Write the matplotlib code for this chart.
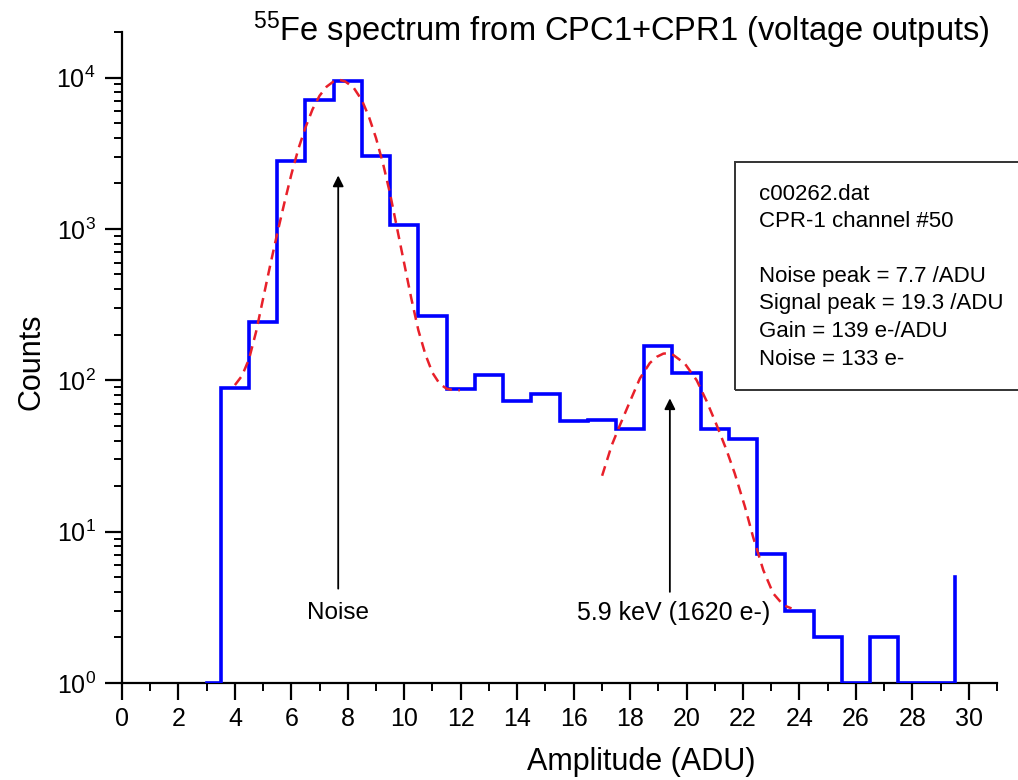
import matplotlib
matplotlib.use("Agg")
import matplotlib.pyplot as plt
from matplotlib.ticker import MultipleLocator, LogLocator, NullFormatter
from matplotlib.patches import Rectangle

plt.rcParams['font.family'] = ['Liberation Sans', 'DejaVu Sans']
plt.rcParams['mathtext.fontset'] = 'custom'
plt.rcParams['mathtext.rm'] = 'Liberation Sans'
plt.rcParams['mathtext.it'] = 'Liberation Sans:italic'
plt.rcParams['mathtext.bf'] = 'Liberation Sans:bold'

# ---- histogram data (bin left edges, counts) ----
bin_left = [3.0, 3.5, 4.5, 5.5, 6.5, 7.5, 8.5, 9.5, 10.5, 11.5, 12.5, 13.5, 14.5,
            15.5, 16.5, 17.5, 18.5, 19.5, 20.5, 21.5, 22.5, 23.5, 24.5, 25.5,
            26.5, 27.5, 28.5]
counts = [1, 89, 243, 2800, 7100, 9500, 3050, 1060, 266, 87, 108, 73, 81,
          54, 55, 48, 168, 112, 48, 41, 7.1, 3, 2, 1, 2, 1, 1]
last_edge = 29.5
spike_count = 5

# ---- fitted curves ----
noise_fit_x = [4.0, 4.25, 4.5, 4.75, 5.0, 5.25, 5.5, 5.75, 6.0, 6.25, 6.5, 6.75,
               7.0, 7.25, 7.5, 7.7, 7.9, 8.2, 8.5, 8.75, 9.0, 9.25, 9.5, 9.75,
               10.0, 10.25, 10.5, 10.75, 11.0, 11.25, 11.5, 11.75, 11.97]
noise_fit_y = [93, 107, 138, 209, 347, 575, 933, 1479, 2291, 3388, 4677, 6166,
               7586, 8710, 9441, 9661, 9441, 8610, 7079, 5495, 3981, 2692, 1698,
               1000, 589, 347, 214, 148, 112, 95, 88, 86, 86]

signal_fit_x = [17.01, 17.35, 17.64, 17.99, 18.35, 18.7, 18.95, 19.18, 19.35,
                19.53, 19.94, 20.36, 20.71, 21.07, 21.42, 21.71, 22.07, 22.36,
                22.72, 23.07, 23.43, 23.72]
signal_fit_y = [23.4, 37.2, 50.5, 72, 103, 130, 143, 150, 151, 147, 129, 100,
                73, 50.5, 34.5, 24.2, 14.6, 9.2, 5.57, 3.91, 3.27, 3.11]

title_text = r"$^{55}$Fe spectrum from CPC1+CPR1 (voltage outputs)"
box_lines = ["c00262.dat", "CPR-1 channel #50", "",
             "Noise peak = 7.7 /ADU", "Signal peak = 19.3 /ADU",
             "Gain = 139 e-/ADU", "Noise = 133 e-"]
noise_label = "Noise"
signal_label = "5.9 keV (1620 e-)"
noise_arrow = (7.66, 2255, 4.2)
signal_arrow = (19.41, 76, 4.0)

W, H = 1018, 780
fig = plt.figure(figsize=(W / 100, H / 100), dpi=100)
ax = fig.add_axes([122 / W, 1 - 683 / H, (997 - 122) / W, (683 - 32) / H])

# histogram as steps
xs = list(bin_left) + [last_edge]
ys = list(counts) + [spike_count]
ax.plot(xs, ys, drawstyle='steps-post', color='#0000ff', lw=2.6,
        solid_joinstyle='miter', zorder=3)

# fits
for fx, fy in [(noise_fit_x, noise_fit_y), (signal_fit_x, signal_fit_y)]:
    ax.plot(fx, fy, color='#e8202a', lw=1.8, ls=(0, (4, 2.6)), zorder=4)

# arrows
for (x, ytip, ybase) in [noise_arrow, signal_arrow]:
    ax.annotate('', xy=(x, ytip), xytext=(x, ybase),
                arrowprops=dict(arrowstyle='-|>', color='black', lw=1.3,
                                mutation_scale=16, shrinkA=0, shrinkB=0))
ax.text(7.66, 2.9, noise_label, ha='center', va='center', fontsize=17.5)
ax.text(19.54, 2.9, signal_label, ha='center', va='center', fontsize=18)

ax.set_yscale('log')
ax.set_xlim(0, 31)
ax.set_ylim(1, 2e4)
ax.xaxis.set_major_locator(MultipleLocator(2))
ax.xaxis.set_minor_locator(MultipleLocator(1))
ax.yaxis.set_major_locator(LogLocator(base=10, numticks=10))
ax.yaxis.set_minor_locator(LogLocator(base=10, subs=range(2, 10), numticks=20))
ax.yaxis.set_minor_formatter(NullFormatter())

for s in ['top', 'right']:
    ax.spines[s].set_visible(False)
for s in ['left', 'bottom']:
    ax.spines[s].set_linewidth(1.6)

ax.tick_params(axis='both', which='major', direction='out', length=12, width=1.6)
ax.tick_params(axis='both', which='minor', direction='out', length=6, width=1.4)
ax.tick_params(axis='x', which='major', labelsize=18, pad=5)
ax.tick_params(axis='y', which='major', labelsize=18, pad=7)

# labels
fig.text(621 / W, 1 - 30 / H, title_text, ha='center', va='center', fontsize=23.5)
fig.text(32 / W, 1 - 362 / H, "Counts", rotation=90, ha='center', va='center', fontsize=22)
fig.text(641 / W, 1 - 762 / H, "Amplitude (ADU)", ha='center', va='center', fontsize=22)

# info box
fig.patches.append(Rectangle((735 / W, 1 - 390 / H), (1030 - 735) / W, (390 - 161.7) / H,
                             transform=fig.transFigure, fill=False,
                             edgecolor='#333333', lw=1.4))
line_y = [195, 221.7, 249, 276.7, 303.3, 331.7, 359.3]
for t, yy in zip(box_lines, line_y):
    if t:
        fig.text(759 / W, 1 - yy / H, t, ha='left', va='center', fontsize=16)

fig.savefig("out.png", dpi=100)
